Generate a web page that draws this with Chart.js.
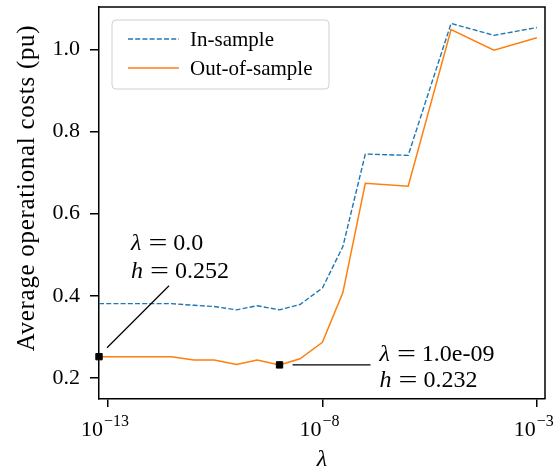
<!DOCTYPE html>
<html>
<head>
<meta charset="utf-8">
<script src="https://cdn.jsdelivr.net/npm/chart.js@4.4.1/dist/chart.umd.min.js"></script>
<style>
  html, body { margin: 0; padding: 0; background: #fff; }
  #wrap { width: 557px; height: 471px; }
</style>
</head>
<body>
<div id="wrap"><canvas id="chart"></canvas></div>
<script>
// lambda grid; the first entry is lambda = 0, placed at the left edge of the log axis
const LAMBDAS = [6.17e-14, 3e-12, 1e-11, 3e-11, 1e-10, 3e-10, 1e-9, 3e-9, 1e-8, 3e-8, 1e-7, 1e-6, 1e-5, 1e-4, 1e-3]
const IN_SAMPLE = [0.381, 0.381, 0.377, 0.374, 0.366, 0.376, 0.366, 0.379, 0.419, 0.520, 0.745, 0.742, 1.063, 1.034, 1.053]
const OUT_SAMPLE = [0.252, 0.252, 0.244, 0.244, 0.233, 0.244, 0.232, 0.247, 0.287, 0.408, 0.674, 0.667, 1.048, 0.998, 1.028]
const SERIES_LABELS = ['In-sample', 'Out-of-sample']
const X_TICK_EXPONENTS = [-13, -8, -3]
const Y_TICKS = [0.2, 0.4, 0.6, 0.8, 1.0]
const MARKED = [0, 6]
const MARKED_LAMBDA_TEXT = ['0.0', '1.0e-09']

const FONT = '"Liberation Serif"'

// text offsets (px) of each annotation relative to its marker
const ANNOT_LAYOUT = [
  { line: [8, -9, 70, -71], text: [32, -107, -79] },
  { line: [13, 0, 91, 0], text: [100, -4, 22] }
]

// draws "sym = value" with a wide equals sign, like TeX math
function drawEq(ctx, sym, value, x, y) {
  let cx = x
  ctx.font = 'italic 24px ' + FONT
  ctx.fillText(sym, cx, y)
  cx += ctx.measureText(sym).width + 7
  ctx.font = '24px ' + FONT
  const we = ctx.measureText('=').width
  ctx.save()
  ctx.translate(cx, y)
  ctx.scale(1.4, 1)
  ctx.fillText('=', 0, 0)
  ctx.restore()
  cx += we * 1.4 + 6
  ctx.fillText(value, cx, y)
}

const extras = {
  id: 'extras',
  afterDraw(chart) {
    const { ctx, chartArea: a, scales } = chart
    const xs = scales.x, ys = scales.y
    ctx.save()
    // frame top / right
    ctx.strokeStyle = '#000'
    ctx.lineWidth = 1.5
    ctx.beginPath()
    ctx.moveTo(a.left, a.top)
    ctx.lineTo(a.right, a.top)
    ctx.lineTo(a.right, a.bottom)
    ctx.stroke()

    // x tick labels 10^n
    ctx.fillStyle = '#000'
    ctx.textBaseline = 'alphabetic'
    ctx.textAlign = 'left'
    X_TICK_EXPONENTS.forEach(e => {
      const px = xs.getPixelForValue(Math.pow(10, e))
      ctx.font = '22px ' + FONT
      const w1 = ctx.measureText('10').width
      ctx.font = '16px ' + FONT
      const exp = '\u2212' + Math.abs(e)
      const w2 = ctx.measureText(exp).width + 1
      const x0 = px - 3 - (w1 + w2) / 2
      ctx.font = '22px ' + FONT
      ctx.fillText('10', x0, 436)
      ctx.font = '16px ' + FONT
      ctx.fillText(exp, x0 + w1 + 1, 426)
    })

    // x title
    ctx.textAlign = 'center'
    ctx.font = 'italic 24px ' + FONT
    ctx.fillText('\u03bb', (a.left + a.right) / 2, 466)

    // y title
    ctx.save()
    ctx.translate(34, 188)
    ctx.rotate(-Math.PI / 2)
    ctx.font = '25px ' + FONT
    ctx.letterSpacing = '0.7px'
    ctx.fillText('Average operational costs (pu)', 0, 0)
    ctx.restore()

    // annotations
    ctx.textAlign = 'left'
    MARKED.forEach((idx, k) => {
      const mx = xs.getPixelForValue(LAMBDAS[idx])
      const my = ys.getPixelForValue(OUT_SAMPLE[idx])
      const L = ANNOT_LAYOUT[k]
      ctx.strokeStyle = '#000'
      ctx.lineWidth = 1.3
      ctx.beginPath()
      ctx.moveTo(mx + L.line[0], my + L.line[1])
      ctx.lineTo(mx + L.line[2], my + L.line[3])
      ctx.stroke()
      ctx.fillStyle = '#000'
      drawEq(ctx, '\u03bb', MARKED_LAMBDA_TEXT[k], mx + L.text[0], my + L.text[1])
      drawEq(ctx, 'h', OUT_SAMPLE[idx].toFixed(3), mx + L.text[0], my + L.text[2])
    })

    // legend
    const lx = a.left + 13, ly = a.top + 13, lw = 217, lh = 69
    ctx.beginPath()
    ctx.roundRect(lx, ly, lw, lh, 4)
    ctx.fillStyle = 'rgba(255,255,255,0.8)'
    ctx.fill()
    ctx.strokeStyle = '#d0d0d0'
    ctx.lineWidth = 1
    ctx.stroke()
    chart.data.datasets.slice(0, 2).forEach((ds, i) => {
      const yy = ly + 19 + i * 29
      ctx.strokeStyle = ds.borderColor
      ctx.lineWidth = ds.borderWidth
      ctx.setLineDash(ds.borderDash || [])
      ctx.beginPath()
      ctx.moveTo(lx + 16, yy)
      ctx.lineTo(lx + 67, yy)
      ctx.stroke()
      ctx.setLineDash([])
      ctx.fillStyle = '#000'
      ctx.font = '21px ' + FONT
      ctx.textBaseline = 'middle'
      ctx.fillText(ds.label, lx + 78, yy + 1)
    })
    ctx.restore()
  }
}

new Chart('chart', {
  type: 'line',
  data: {
    datasets: [
      {
        label: SERIES_LABELS[0],
        data: LAMBDAS.map((x, i) => ({ x, y: IN_SAMPLE[i] })),
        borderColor: '#1f77b4',
        borderWidth: 1.4,
        borderDash: [5, 2.2],
        pointRadius: 0,
        order: 3
      },
      {
        label: SERIES_LABELS[1],
        data: LAMBDAS.map((x, i) => ({ x, y: OUT_SAMPLE[i] })),
        borderColor: '#ff7f0e',
        borderWidth: 1.5,
        pointRadius: 0,
        order: 2
      },
      {
        type: 'scatter',
        label: 'marks',
        data: MARKED.map(i => ({ x: LAMBDAS[i], y: OUT_SAMPLE[i] })),
        pointStyle: 'rect',
        pointRadius: 4.5,
        backgroundColor: '#000',
        borderColor: '#000',
        clip: false,
        order: 1
      }
    ]
  },
  options: {
    responsive: true,
    maintainAspectRatio: false,
    animation: false,
    devicePixelRatio: 1,
    layout: { padding: { top: 7, right: 12, left: 0, bottom: 0 } },
    plugins: { legend: { display: false }, tooltip: { enabled: false } },
    scales: {
      x: {
        type: 'logarithmic',
        min: LAMBDAS[0],
        max: 1.55e-3,
        afterBuildTicks: s => { s.ticks = X_TICK_EXPONENTS.map(e => ({ value: Math.pow(10, e) })) },
        afterFit: s => { s.height = 72; s.paddingLeft = 0; s.paddingRight = 0 },
        ticks: { display: false },
        grid: { drawOnChartArea: false, drawTicks: true, tickLength: 8, color: '#000', lineWidth: 1.5 },
        border: { display: true, color: '#000', width: 1.5 }
      },
      y: {
        min: 0.149,
        max: 1.103,
        afterBuildTicks: s => { s.ticks = Y_TICKS.map(v => ({ value: v })) },
        afterFit: s => { s.width = 99; s.paddingTop = 0; s.paddingBottom = 0 },
        ticks: {
          color: '#000',
          padding: 10,
          font: { family: 'Liberation Serif', size: 22 },
          callback: v => v.toFixed(1)
        },
        grid: { drawOnChartArea: false, drawTicks: true, tickLength: 9, color: '#000', lineWidth: 1.5 },
        border: { display: true, color: '#000', width: 1.5 }
      }
    }
  },
  plugins: [extras]
})
</script>
</body>
</html>
